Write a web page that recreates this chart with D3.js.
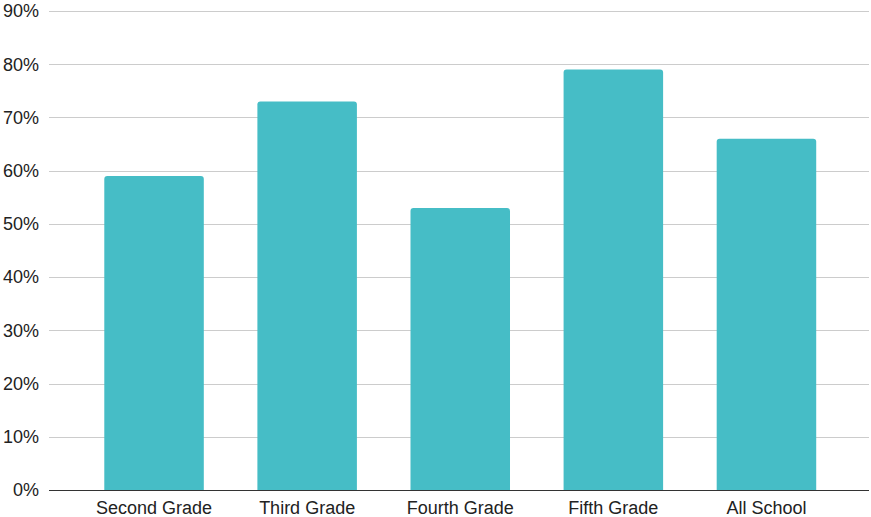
<!DOCTYPE html>
<html>
<head>
<meta charset="utf-8">
<script src="https://cdn.jsdelivr.net/npm/d3@7"></script>
<style>
  html, body { margin: 0; padding: 0; background: #fff; }
  svg { display: block; font-family: "Liberation Sans", Arial, Helvetica, sans-serif; }
</style>
</head>
<body>
<svg id="chart" width="871" height="517"></svg>
<script>
// Share of students per grade (percent)
const categories = ["Second Grade", "Third Grade", "Fourth Grade", "Fifth Grade", "All School"];
const values = [59, 73, 53, 79, 66];
const yTicks = [0, 10, 20, 30, 40, 50, 60, 70, 80, 90];

const W = 871, H = 517;
const plot = { left: 49, right: 869, top: 11, bottom: 490 };
const svg = d3.select("#chart");

const x = d3.scaleBand()
  .domain(categories)
  .range([77.5, 843])
  .paddingInner(0.35)
  .paddingOuter(0.175);

const y = d3.scaleLinear()
  .domain([0, 90])
  .range([plot.bottom, plot.top]);

// Horizontal gridlines
svg.append("g")
  .selectAll("line")
  .data(yTicks.filter(d => d > 0))
  .join("line")
  .attr("x1", plot.left)
  .attr("x2", plot.right)
  .attr("y1", d => Math.round(y(d)) + 0.5)
  .attr("y2", d => Math.round(y(d)) + 0.5)
  .attr("stroke", "#cccccc")
  .attr("stroke-width", 1);

// Y tick labels
svg.append("g")
  .selectAll("text")
  .data(yTicks)
  .join("text")
  .attr("x", 39)
  .attr("y", d => y(d))
  .attr("dy", "0.35em")
  .attr("text-anchor", "end")
  .attr("font-size", 18)
  .attr("fill", "#222")
  .text(d => d + "%");

// Bars with slightly rounded top corners
const r = 3;
svg.append("g")
  .selectAll("path")
  .data(categories.map((c, i) => ({ c, v: values[i] })))
  .join("path")
  .attr("fill", "#46bdc6")
  .attr("d", d => {
    const x0 = x(d.c), w = x.bandwidth();
    const y0 = y(d.v), y1 = y(0);
    return `M${x0},${y1} L${x0},${y0 + r} Q${x0},${y0} ${x0 + r},${y0} ` +
           `L${x0 + w - r},${y0} Q${x0 + w},${y0} ${x0 + w},${y0 + r} L${x0 + w},${y1} Z`;
  });

// Baseline
svg.append("line")
  .attr("x1", plot.left)
  .attr("x2", plot.right)
  .attr("y1", plot.bottom + 0.5)
  .attr("y2", plot.bottom + 0.5)
  .attr("stroke", "#333")
  .attr("stroke-width", 1.2);

// Category labels
svg.append("g")
  .selectAll("text")
  .data(categories)
  .join("text")
  .attr("x", d => x(d) + x.bandwidth() / 2)
  .attr("y", 514)
  .attr("text-anchor", "middle")
  .attr("font-size", 18)
  .attr("fill", "#222")
  .text(d => d);
</script>
</body>
</html>
